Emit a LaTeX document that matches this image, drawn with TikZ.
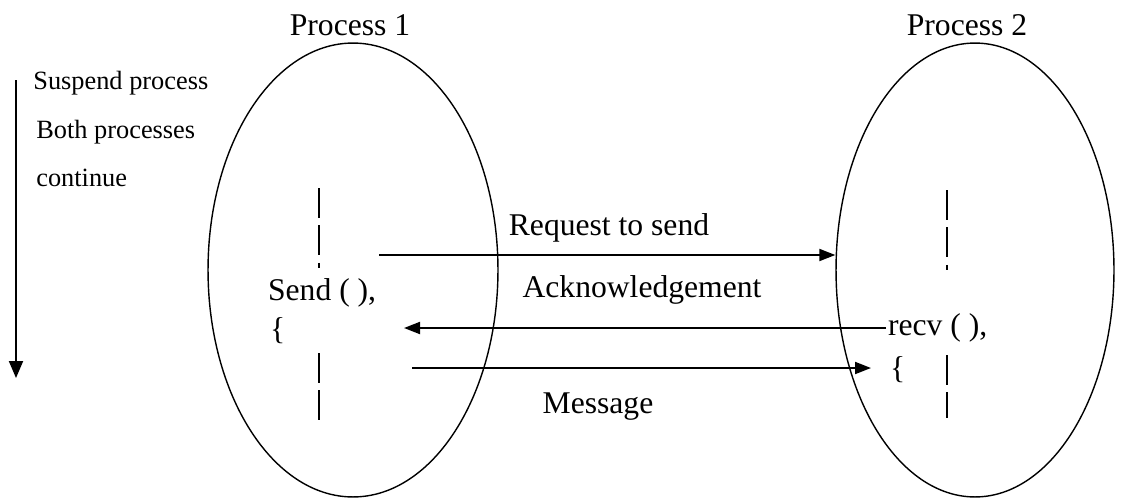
\documentclass[tikz,border=0pt]{standalone}
\usepackage{fontspec}
\setmainfont{Liberation Serif}
\usetikzlibrary{arrows.meta,shapes.geometric}

\begin{document}
\begin{tikzpicture}[x=0.02cm, y=-0.02cm, >={Triangle[length=0.32cm, width=0.24cm]},
    proc/.style={draw, ellipse, line width=0.8pt, minimum height=9.08cm, inner sep=0pt},
    lbl/.style={font=\fontsize{18}{20}\selectfont, inner sep=1pt},
    note/.style={font=\fontsize{15}{17}\selectfont, anchor=west, inner sep=0pt},
    msg/.style={->, line width=1.1pt},
    lifeline/.style={line width=0.8pt, dash pattern=on 0.6cm off 0.15cm}]
\useasboundingbox (0,0) rectangle (1122,497);

\node[proc, minimum width=5.8cm] (proc1) at (353,270) {};
\node[proc, minimum width=5.56cm] (proc2) at (975,270) {};
\node[lbl] (title1) at (350,25) {Process 1};
\node[lbl] (title2) at (967,25) {Process 2};

% time axis
\coordinate (tTop) at (16,80);
\coordinate (tBot) at (16,378);
\draw[line width=1.1pt, -{Triangle[length=0.34cm, width=0.28cm]}] (tTop) -- (tBot);
\node[note] (suspend) at (33,83) {Suspend process};
\node[note] (both) at (36,132) {Both processes};
\node[note] (cont) at (36,178) {continue};

% lifelines
\draw[lifeline] (319,188) -- (319,268);
\draw[lifeline] (319,353) -- (319,420);
\draw[lifeline] (947,190) -- (947,270);
\draw[lifeline] (947,355) -- (947,418);

\node[lbl, anchor=west] (send) at (266,293) {Send ( ),};
\node[lbl, anchor=west] (sbrace) at (268,331) {\{};
\node[lbl, anchor=west] (recv) at (886,328) {recv ( ),};
\node[lbl, anchor=west] (rbrace) at (888,370) {\{};

\coordinate (reqS) at (379,255);
\coordinate (ackE) at (404,328);
\coordinate (msgS) at (412,368);
\coordinate (msgE) at (871,368);

\draw[msg] (reqS) -- (reqS -| proc2.west);
\node[lbl] (req) at (609,228) {Request to send};
\draw[msg] (recv.west) -- (ackE);
\node[lbl] (ack) at (642,290) {Acknowledgement};
\draw[msg] (msgS) -- (msgE);
\node[lbl] (mesg) at (598,407) {Message};
\end{tikzpicture}
\end{document}
